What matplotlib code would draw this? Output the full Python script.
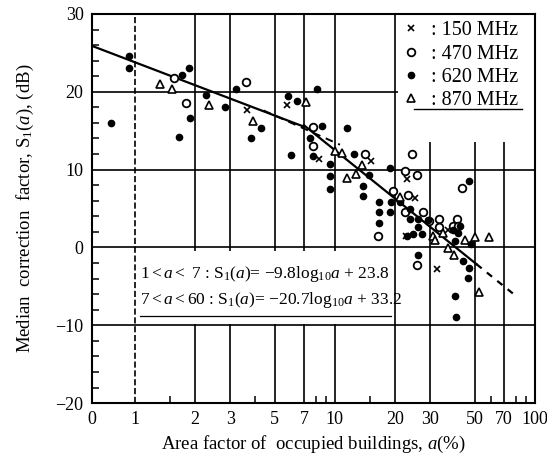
import numpy as np
import matplotlib
matplotlib.use('Agg')
import matplotlib.pyplot as plt
from matplotlib.patches import Rectangle
from matplotlib.ticker import FixedLocator, NullFormatter

plt.rcParams['font.family'] = ['Liberation Serif', 'DejaVu Serif']
plt.rcParams['mathtext.fontset'] = 'custom'
plt.rcParams['mathtext.rm'] = 'Liberation Serif'
plt.rcParams['mathtext.it'] = 'Liberation Serif:italic'

# ---------------- data ----------------
x_ticks = [0.61, 1, 2, 3, 5, 7, 10, 20, 30, 50, 70, 100]
x_ticklabels = ['0', '1', '2', '3', '5', '7', '10', '20', '30', '50', '70', '100']
x_minor = [1.5, 4, 8, 9, 15, 60, 80, 90]
y_ticks = [-20, -10, 0, 10, 20, 30]
y_ticklabels = ['\u221220', '\u221210', '0', '10', '20', '30']
v_grid = [1, 2, 3, 5, 7, 10, 20, 30, 50, 70]
h_grid = [20, 10, 0, -10]

# 150 MHz (x)
a_150 = [3.63, 5.75, 8.3, 15.1, 22.9, 25.1, 36.7, 22.6, 32.4]
s_150 = [17.7, 18.3, 11.4, 11.1, 8.8, 6.3, 2.3, 1.5, -2.8]

# 470 MHz (open circle)
a_470 = [1.57, 1.80, 3.58, 7.76, 7.76, 14.1, 24.3, 22.4, 25.7, 43.2, 16.4, 19.5,
         23.2, 22.4, 27.5, 29.5, 33.1, 40.7, 38.9, 41.2, 25.7, 33.1]
s_470 = [21.8, 18.5, 21.2, 15.5, 13.0, 12.0, 12.0, 9.8, 9.3, 7.7, 1.5, 7.2,
         6.7, 4.5, 4.6, 3.4, 3.6, 3.7, 2.8, 2.8, -2.2, 2.6]

# 620 MHz (filled circle)
a_620 = [0.94, 0.94, 0.76, 1.72, 1.86, 1.88, 1.66, 2.26, 2.82, 3.19, 4.26, 3.80,
         8.13, 5.82, 6.46, 11.5, 8.6, 7.5, 7.76, 6.03, 12.4, 9.44, 9.44, 9.44,
         14.8, 13.8, 13.8, 18.8, 46.8, 16.6, 16.6, 16.6, 19.1, 21.1, 18.8, 23.7,
         23.7, 26.0, 24.5, 27.2, 22.9, 26.0, 29.2, 26.0, 38.9, 41.2, 42.2, 39.8,
         47.9, 43.7, 46.8, 46.2, 39.8, 40.3]
s_620 = [24.6, 23.0, 16.0, 22.2, 23.0, 16.6, 14.2, 19.6, 18.1, 20.4, 15.4, 14.1,
         20.3, 19.4, 18.8, 15.4, 15.6, 14.1, 11.7, 11.9, 12.0, 10.7, 9.2, 7.5,
         9.3, 7.9, 6.6, 10.2, 8.6, 5.8, 4.5, 3.1, 5.8, 5.8, 4.5, 5.0,
         3.6, 3.6, 1.7, 1.7, 1.5, -1.0, 3.5, 2.6, 2.3, 1.9, 2.8, 0.8,
         0.4, -1.8, -2.7, -3.9, -6.3, -9.0]

# 870 MHz (open triangle)
a_870 = [1.33, 1.53, 2.34, 3.89, 7.16, 10.0, 10.8, 13.6, 11.5, 12.7, 21.1, 34.7,
         30.9, 50.1, 58.9, 31.6, 36.6, 39.3, 52.5, 44.7]
s_870 = [21.0, 20.3, 18.3, 16.3, 18.7, 12.4, 12.1, 10.6, 8.9, 9.4, 6.5, 1.9,
         1.5, 1.3, 1.3, 1.0, -0.1, -1.0, -5.7, 1.0]

# regression lines printed on the chart
fit1_slope, fit1_icpt, fit1_range = -9.8, 23.8, (0.61, 7)
fit2_slope, fit2_icpt, fit2_range = -20.7, 33.2, (7, 51)
fit2_ext_range = (51, 80)
# short dashed segment
dash_a = [4.4, 10.6]
dash_s = [17.6, 13.2]

# ---------------- figure ----------------
fig = plt.figure(figsize=(5.47, 4.66), dpi=100)
ax = fig.add_axes([0.168, 0.135, 0.810, 0.835])
ax.set_xscale('log')
ax.set_xlim(0.61, 100)
ax.set_ylim(-20, 30)

for v in v_grid:
    ax.axvline(v, color='black', lw=1.2, zorder=1, ls='--' if v == 1 else '-')
for h in h_grid:
    ax.axhline(h, color='black', lw=1.2, zorder=1)

# blank panels (legend / equation areas)
ax.add_patch(Rectangle((20.6, 13.5), 100 - 20.6, 17, facecolor='white', edgecolor='none', zorder=1.5))
ax.add_patch(Rectangle((1.03, -9.8), 19.4 - 1.03, 9.4, facecolor='white', edgecolor='none', zorder=1.5))

# fit lines
xa = np.geomspace(*fit1_range, 50)
ax.plot(xa, fit1_slope * np.log10(xa) + fit1_icpt, color='black', lw=1.6, zorder=2)
xb = np.geomspace(*fit2_range, 50)
ax.plot(xb, fit2_slope * np.log10(xb) + fit2_icpt, color='black', lw=1.6, zorder=2)
xc = np.geomspace(*fit2_ext_range, 20)
ax.plot(xc, fit2_slope * np.log10(xc) + fit2_icpt, color='black', lw=1.6, ls=(0, (3, 3)), zorder=2)
ax.plot(dash_a, dash_s, color='black', lw=1.4, ls=(0, (4, 3)), zorder=2)

h150, = ax.plot(a_150, s_150, 'x', color='black', ms=4.5, mew=1.2, ls='none', zorder=3)
h470, = ax.plot(a_470, s_470, 'o', mfc='white', mec='black', ms=5.5, mew=1.3, ls='none', zorder=3)
h620, = ax.plot(a_620, s_620, 'o', color='black', ms=4.5, ls='none', zorder=3)
h870, = ax.plot(a_870, s_870, '^', mfc='white', mec='black', ms=6, mew=1.2, ls='none', zorder=3)

leg = ax.legend([h150, h470, h620, h870], [': 150 MHz', ': 470 MHz', ': 620 MHz', ': 870 MHz'],
                loc='upper right', bbox_to_anchor=(0.99, 1.012), frameon=False,
                fontsize=14.5, handlelength=0.8, handletextpad=0.6, labelspacing=0.2,
                borderaxespad=0.2)
ax.plot([0.726, 0.97], [0.755, 0.755], transform=ax.transAxes, color='black', lw=1.0, zorder=4)

# equations
eq1 = r'$1 < a <\ 7$ : S$_1$($a$)= $-$9.8log$_{10}$$a$ + 23.8'
eq2 = r'$7 < a < 60$ : S$_1$($a$)= $-$20.7log$_{10}$$a$ + 33.2'
ax.text(1.06, -3.4, eq1, fontsize=12.5, va='center', ha='left', zorder=4)
ax.text(1.06, -6.7, eq2, fontsize=12.5, va='center', ha='left', zorder=4)
ax.plot([1.06, 19], [-8.8, -8.8], color='black', lw=0.9, zorder=4)

# ticks
ax.xaxis.set_major_locator(FixedLocator(x_ticks))
ax.set_xticklabels(x_ticklabels)
ax.xaxis.set_minor_locator(FixedLocator(x_minor))
ax.xaxis.set_minor_formatter(NullFormatter())
ax.set_yticks(y_ticks)
ax.set_yticklabels(y_ticklabels)
ax.yaxis.set_minor_locator(FixedLocator(list(range(-18, 30, 2))))
ax.tick_params(axis='both', which='major', direction='in', length=0, labelsize=13, pad=6)
ax.tick_params(axis='both', which='minor', direction='in', length=5, width=1.1)
for sp in ax.spines.values():
    sp.set_linewidth(1.5)

ax.set_xlabel(r'Area factor of  occupied buildings, $a$(%)', fontsize=13.5, labelpad=4)
ax.set_ylabel(r'Median  correction  factor, S$_1$($a$), (dB)', fontsize=13.5, labelpad=14)

fig.savefig('out.png', dpi=100)
